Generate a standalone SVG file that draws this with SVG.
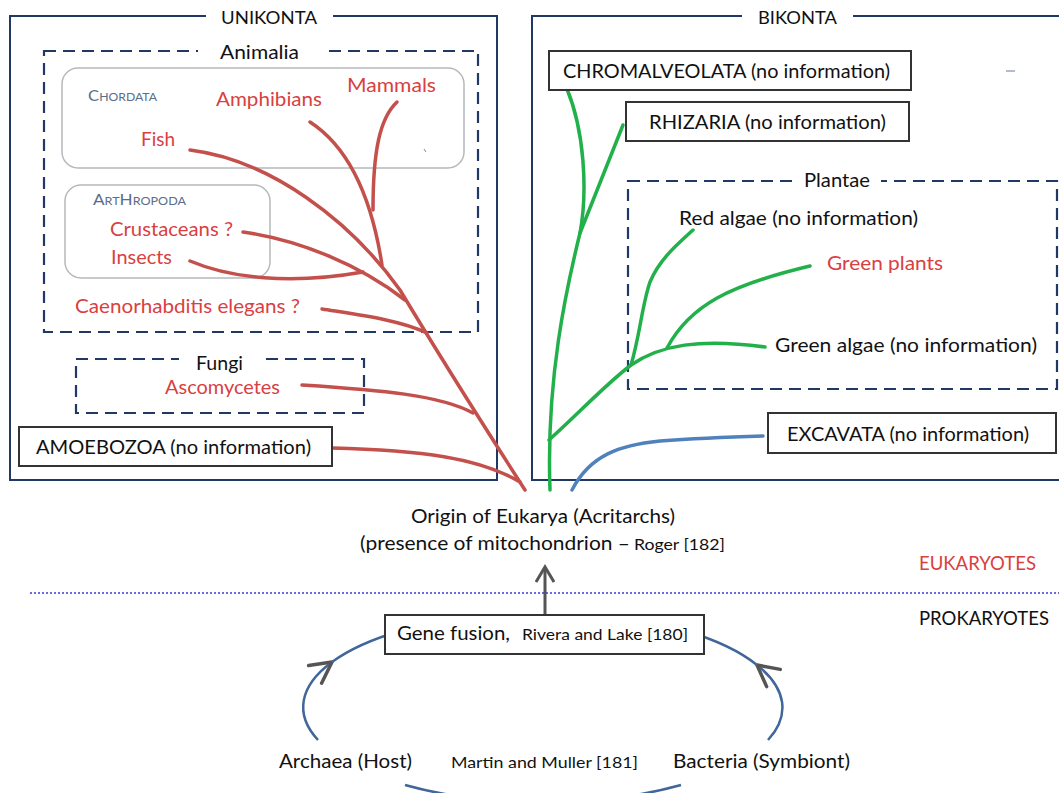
<svg xmlns="http://www.w3.org/2000/svg" width="1059" height="793" viewBox="0 0 1059 793">
<style>
text{font-family:Lato,"Open Sans","Liberation Sans",sans-serif;fill:#111}
.red{fill:#d9403f}
.big{font-size:17px}
.lab{font-size:19px}
.bot{font-size:18.5px}
.sm{font-size:15px}
.navy{fill:none;stroke:#1f3864;stroke-width:2}
.dash{fill:none;stroke:#1f3864;stroke-width:2.2;stroke-dasharray:12 7}
.gbox{fill:none;stroke:#b5b9bd;stroke-width:1.5}
.blk{fill:#fff;stroke:#333;stroke-width:2}
.cap{fill:#5a6e8a}
.rl{fill:none;stroke:#c4504c;stroke-width:3.5;stroke-linecap:round}
.gl{fill:none;stroke:#22b04b;stroke-width:3.5;stroke-linecap:round}
.bl{fill:none;stroke:#4f81bd;stroke-width:3.5;stroke-linecap:round}
.loop{fill:none;stroke:#40669a;stroke-width:2.5}
</style>
<defs>
<marker id="chev" markerUnits="userSpaceOnUse" markerWidth="20" markerHeight="20" viewBox="0 0 20 20" refX="16" refY="10" orient="auto">
<path d="M1,1 L16,10 L1,19" fill="none" stroke="#555" stroke-width="3"/>
</marker>
<marker id="chevL" markerUnits="userSpaceOnUse" markerWidth="30" markerHeight="30" viewBox="0 0 30 30" refX="24" refY="15" orient="auto">
<path d="M3,4 L24,15 L3,26" fill="none" stroke="#555" stroke-width="3.5" stroke-linecap="round" stroke-linejoin="round"/>
</marker>
</defs>

<g id="unikonta">
<rect class="navy" x="10" y="16" width="487" height="464"/>
<rect x="206" y="6" width="127" height="20" fill="#fff"/>
<text class="big" x="221" y="24" textLength="96" lengthAdjust="spacingAndGlyphs">UNIKONTA</text>
</g>
<g id="bikonta">
<rect class="navy" x="532" y="16" width="540" height="464"/>
<rect x="742" y="6" width="111" height="20" fill="#fff"/>
<text class="big" x="758" y="24" textLength="79" lengthAdjust="spacingAndGlyphs">BIKONTA</text>
</g>
<g id="animalia">
<rect class="dash" x="44" y="51" width="434" height="281"/>
<rect x="198" y="40" width="125" height="22" fill="#fff"/>
<text class="lab" x="220" y="59" textLength="79" lengthAdjust="spacingAndGlyphs">Animalia</text>
</g>
<g id="chordata">
<rect class="gbox" x="62" y="68" width="402" height="100" rx="16"/>
<text class="cap" x="88" y="101" textLength="69" lengthAdjust="spacingAndGlyphs"><tspan font-size="15">C</tspan><tspan font-size="11">HORDATA</tspan></text>
<path d="M424,149 l2,3" stroke="#888" stroke-width="1"/>
</g>
<g id="arthropoda">
<rect class="gbox" x="65" y="185" width="205" height="93" rx="16"/>
<text class="cap" x="93" y="205" textLength="93" lengthAdjust="spacingAndGlyphs"><tspan font-size="15">A</tspan><tspan font-size="11">RT</tspan><tspan font-size="15">H</tspan><tspan font-size="11">ROPODA</tspan></text>
</g>
<g id="fungi">
<rect class="dash" x="76" y="359" width="288" height="54"/>
<rect x="179" y="350" width="80" height="18" fill="#fff"/>
<text class="lab" x="196" y="370" textLength="47" lengthAdjust="spacingAndGlyphs">Fungi</text>
</g>
<g id="plantae">
<rect class="dash" x="628" y="181" width="429" height="208"/>
<rect x="793" y="170" width="88" height="20" fill="#fff"/>
<text class="lab" x="804" y="187" textLength="66" lengthAdjust="spacingAndGlyphs">Plantae</text>
</g>

<g id="connectors">
<path class="rl" d="M190,150 C270,160 350,220 400,290 C430,340 480,420 525,490"/>
<path class="rl" d="M310,122 C350,148 372,200 382,265"/>
<path class="rl" d="M397,102 C380,118 373,150 373,210"/>
<path class="rl" d="M243,232 C300,240 360,265 405,300"/>
<path class="rl" d="M190,261 C230,278 290,285 363,272"/>
<path class="rl" d="M322,309 C360,315 400,320 427,333"/>
<path class="rl" d="M302,385 C380,390 440,395 473,413"/>
<path class="rl" d="M332,448 C420,450 480,458 520,482"/>
<path class="gl" d="M550,490 C546,380 566,290 580,233 C588,190 584,130 567,89"/>
<path class="gl" d="M580,233 L623,125"/>
<path class="gl" d="M549,440 C580,412 605,385 631,365 C660,345 700,338 765,347"/>
<path class="gl" d="M631,365 C640,335 642,305 650,282 C660,258 680,242 693,230"/>
<path class="gl" d="M667,348 C690,305 730,285 810,266"/>
<path class="bl" d="M572,490 C590,455 620,445 660,441 C700,438 730,437 763,436"/>
<path d="M545,615 L545,567" stroke="#555" stroke-width="3" fill="none" marker-end="url(#chev)"/>
<path class="loop" d="M318,740 A240,95 0 0 1 332,662" marker-end="url(#chevL)"/>
<path class="loop" d="M332,662 A240,95 0 0 1 400,631"/>
<path class="loop" d="M768,740 A240,95 0 0 0 757,665" marker-end="url(#chevL)"/>
<path class="loop" d="M757,665 A240,95 0 0 0 686,631"/>
<path class="loop" d="M405,785 A240,95 0 0 0 681,785"/>
<line x1="30" y1="593" x2="1059" y2="593" stroke="#3b3bd6" stroke-width="1.5" stroke-dasharray="2 2"/>
</g>

<g id="labels-red">
<text class="lab red" x="347" y="92" textLength="89" lengthAdjust="spacingAndGlyphs">Mammals</text>
<text class="lab red" x="216" y="106" textLength="106" lengthAdjust="spacingAndGlyphs">Amphibians</text>
<text class="lab red" x="141" y="146" textLength="34" lengthAdjust="spacingAndGlyphs">Fish</text>
<text class="lab red" x="110" y="236" textLength="123" lengthAdjust="spacingAndGlyphs">Crustaceans ?</text>
<text class="lab red" x="111" y="264" textLength="61" lengthAdjust="spacingAndGlyphs">Insects</text>
<text class="lab red" x="75" y="313" textLength="225" lengthAdjust="spacingAndGlyphs">Caenorhabditis elegans ?</text>
<text class="lab red" x="165" y="394" textLength="115" lengthAdjust="spacingAndGlyphs">Ascomycetes</text>
<text class="lab red" x="827" y="270" textLength="116" lengthAdjust="spacingAndGlyphs">Green plants</text>
</g>

<g id="amoebozoa">
<rect class="blk" x="19" y="427" width="313" height="39"/>
<text class="lab" x="36" y="454" textLength="275" lengthAdjust="spacingAndGlyphs">AMOEBOZOA (no information)</text>
</g>
<g id="chromalveolata">
<rect class="blk" x="549" y="51" width="362" height="39"/>
<text class="lab" x="563" y="78" textLength="327" lengthAdjust="spacingAndGlyphs">CHROMALVEOLATA (no information)</text>
</g>
<path d="M1006,71 L1015,71" stroke="#9aa6b8" stroke-width="1.5"/>
<g id="rhizaria">
<rect class="blk" x="626" y="102" width="283" height="39"/>
<text class="lab" x="649" y="129" textLength="237" lengthAdjust="spacingAndGlyphs">RHIZARIA (no information)</text>
</g>
<g id="red-algae">
<text class="lab" x="679" y="225" textLength="239" lengthAdjust="spacingAndGlyphs">Red algae (no information)</text>
</g>
<g id="green-algae">
<text class="lab" x="775" y="352" textLength="262" lengthAdjust="spacingAndGlyphs">Green algae (no information)</text>
</g>
<g id="excavata">
<rect class="blk" x="768" y="413" width="288" height="40"/>
<text class="lab" x="787" y="441" textLength="242" lengthAdjust="spacingAndGlyphs">EXCAVATA (no information)</text>
</g>

<g id="origin">
<text class="bot" x="411" y="523" textLength="264" lengthAdjust="spacingAndGlyphs">Origin of Eukarya (Acritarchs)</text>
<text class="bot" x="360" y="550" textLength="270" lengthAdjust="spacingAndGlyphs">(presence of mitochondrion –</text>
<text class="sm" x="634" y="550" textLength="91" lengthAdjust="spacingAndGlyphs">Roger [182]</text>
</g>
<text class="lab red" x="919" y="570" textLength="117" lengthAdjust="spacingAndGlyphs">EUKARYOTES</text>
<text class="lab" x="919" y="625" textLength="130" lengthAdjust="spacingAndGlyphs">PROKARYOTES</text>
<g id="gene-fusion">
<rect class="blk" x="385" y="615" width="319" height="39"/>
<text class="bot" x="397" y="640" textLength="113" lengthAdjust="spacingAndGlyphs">Gene fusion,</text>
<text class="sm" x="522" y="640" textLength="166" lengthAdjust="spacingAndGlyphs">Rivera and Lake [180]</text>
</g>
<g id="archaea"><text class="bot" x="279" y="768" textLength="133" lengthAdjust="spacingAndGlyphs">Archaea (Host)</text></g>
<text class="sm" x="451" y="768" textLength="187" lengthAdjust="spacingAndGlyphs">Martin and Muller [181]</text>
<g id="bacteria"><text class="bot" x="673" y="768" textLength="177" lengthAdjust="spacingAndGlyphs">Bacteria (Symbiont)</text></g>
</svg>
